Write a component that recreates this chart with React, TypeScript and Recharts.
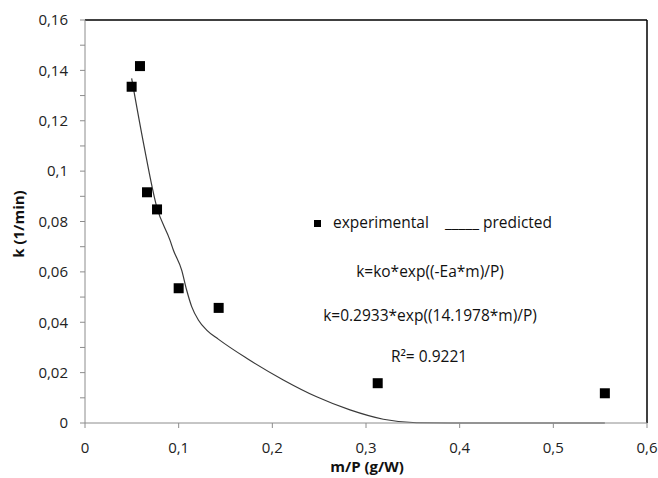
import {
  ComposedChart,
  Line,
  ReferenceLine,
  Scatter,
  XAxis,
  YAxis,
} from "recharts";

// measured points (m/P in g/W, k in 1/min)
const expX = [0.0498, 0.0587, 0.0662, 0.0769, 0.1, 0.1427, 0.3125, 0.555];
const expK = [0.1335, 0.1417, 0.0916, 0.0848, 0.0535, 0.0457, 0.0158, 0.0118];

// predicted curve
const predX = [
  0.0498, 0.0625, 0.0765, 0.0907, 0.0943, 0.1032, 0.1085, 0.1139, 0.121,
  0.1299, 0.1423, 0.1726, 0.2117, 0.2473, 0.2829, 0.3185, 0.354, 0.39, 0.47,
  0.555,
];
const predK = [
  0.1368, 0.111, 0.0859, 0.0726, 0.0687, 0.0607, 0.0528, 0.0462, 0.0409,
  0.0369, 0.0333, 0.0257, 0.0171, 0.0104, 0.0052, 0.0015, 0.0001, 0, 0, 0,
];

const xTicks = [0, 0.1, 0.2, 0.3, 0.4, 0.5, 0.6];
const yTicks = [
  0, 0.01, 0.02, 0.03, 0.04, 0.05, 0.06, 0.07, 0.08, 0.09, 0.1, 0.11, 0.12,
  0.13, 0.14, 0.15, 0.16,
];

const experimental = expX.map((x, i) => ({ x, k: expK[i] }));
const predicted = predX.map((x, i) => ({ x, k: predK[i] }));

const FONT = "'Open Sans', sans-serif";
const AXIS = "#8c8c8c";

const comma = (v: number) => String(+v.toFixed(2)).replace(".", ",");

const Square = (props: any) => (
  <rect x={props.cx - 5} y={props.cy - 5} width={10} height={10} fill="#000" />
);

const text: any = {
  position: "absolute",
  fontFamily: FONT,
  fontSize: 15.5,
  color: "#111",
  whiteSpace: "nowrap",
  lineHeight: 1,
};

// everything below is in page pixels (body margin removed)
export default function App() {
  return (
    <div style={{ position: "relative", width: 658, height: 478, background: "#fff" }}>
      <style>{"html{overflow:hidden}body{margin:0}.recharts-surface{overflow:visible}"}</style>
      <div style={{ position: "absolute", left: 8, top: 8 }}>
        <ComposedChart
          width={650}
          height={470}
          margin={{ top: 12, right: 11, left: 0, bottom: 15 }}
        >
          <XAxis
            type="number"
            dataKey="x"
            domain={[0, 0.6]}
            ticks={xTicks}
            tickFormatter={comma}
            stroke={AXIS}
            tickSize={5}
            tickMargin={14}
            height={40}
            tick={{ fill: "#222", fontFamily: FONT, fontSize: 15 }}
            allowDataOverflow
          />
          <YAxis
            type="number"
            dataKey="k"
            domain={[0, 0.16]}
            ticks={yTicks}
            interval={0}
            tickFormatter={(v: number) =>
              Math.round(v * 100) % 2 === 0 ? comma(v) : ""
            }
            stroke={AXIS}
            tickSize={5}
            tickMargin={12}
            width={77}
            tick={{ fill: "#222", fontFamily: FONT, fontSize: 15 }}
          />
          <ReferenceLine y={0.16} stroke="#000" strokeWidth={1.5} />
          <ReferenceLine x={0.6} stroke="#000" strokeWidth={1.5} />
          <Line
            data={predicted}
            dataKey="k"
            type="monotone"
            stroke="#3a3a3a"
            strokeWidth={1.2}
            dot={false}
            isAnimationActive={false}
          />
          <Scatter
            data={experimental}
            dataKey="k"
            fill="#000"
            shape={Square}
            isAnimationActive={false}
          />
        </ComposedChart>
      </div>

      {/* legend and fit notes */}
      <div
        style={{
          position: "absolute",
          left: 314,
          top: 220,
          width: 7,
          height: 7,
          background: "#000",
        }}
      />
      <div style={{ ...text, left: 333, top: 223, transform: "translateY(-50%)" }}>
        experimental
      </div>
      <div style={{ ...text, left: 445, top: 223, transform: "translateY(-50%)" }}>
        _____ predicted
      </div>
      <div style={{ ...text, left: 430, top: 272, transform: "translate(-50%,-50%)" }}>
        k=ko*exp((-Ea*m)/P)
      </div>
      <div style={{ ...text, left: 430, top: 316, transform: "translate(-50%,-50%)" }}>
        k=0.2933*exp((14.1978*m)/P)
      </div>
      <div style={{ ...text, left: 429, top: 357, transform: "translate(-50%,-50%)" }}>
        R²= 0.9221
      </div>

      {/* axis titles */}
      <div
        style={{
          ...text,
          fontSize: 15,
          fontWeight: 700,
          left: 367,
          top: 466,
          transform: "translate(-50%,-50%)",
        }}
      >
        m/P (g/W)
      </div>
      <div
        style={{
          ...text,
          fontSize: 15,
          fontWeight: 700,
          left: 18,
          top: 224,
          transform: "translate(-50%,-50%) rotate(-90deg)",
        }}
      >
        k (1/min)
      </div>
    </div>
  );
}
